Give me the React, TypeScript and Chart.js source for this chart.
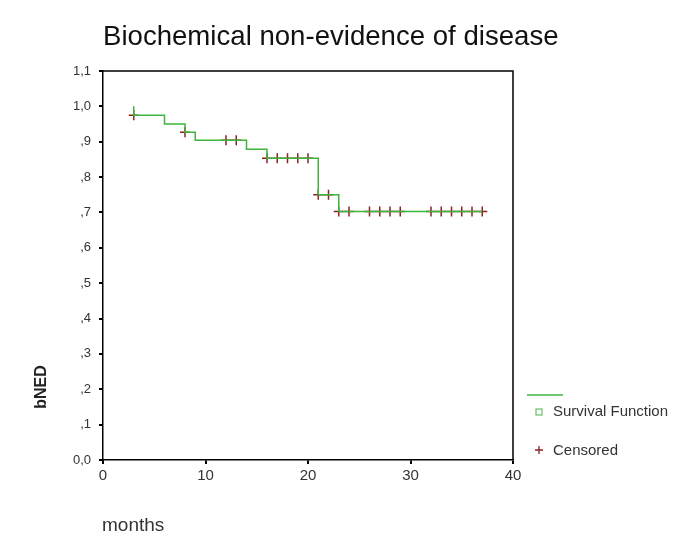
import React, { useEffect, useRef } from "react";
import { Chart, registerables } from "chart.js";

Chart.register(...registerables);

// Kaplan-Meier step function (time in months, survival)
const survTimes = [3, 3, 6, 8, 9, 14, 16, 21, 23, 37];
const survValues = [1.0, 0.975, 0.95, 0.927, 0.904, 0.879, 0.853, 0.75, 0.703, 0.703];

// Censored observations
const censorTimes = [3, 8, 12, 13, 16, 17, 18, 19, 20, 21, 22, 23, 24, 26, 27, 28, 29, 32, 33, 34, 35, 36, 37];
const censorValues = [
  0.975, 0.927, 0.904, 0.904, 0.853, 0.853, 0.853, 0.853, 0.853, 0.75, 0.75,
  0.703, 0.703, 0.703, 0.703, 0.703, 0.703, 0.703, 0.703, 0.703, 0.703, 0.703, 0.703,
];

const yTickLabels = ["0,0", ",1", ",2", ",3", ",4", ",5", ",6", ",7", ",8", ",9", "1,0", "1,1"];
const xTickValues = [0, 10, 20, 30, 40];

const titleText = "Biochemical non-evidence of disease";
const yTitle = "bNED";
const xTitle = "months";
const legendSurvival = "Survival Function";
const legendCensored = "Censored";

const FONT = "'Liberation Sans', Arial, sans-serif";
const GREEN = "#3db53d";
const RED = "#8a2323";

export default function App() {
  const ref = useRef<HTMLCanvasElement | null>(null);

  useEffect(() => {
    if (!ref.current) return;
    const decor = {
      id: "decor",
      afterDraw(chart: any) {
        const ctx = chart.ctx as CanvasRenderingContext2D;
        const a = chart.chartArea;
        ctx.save();
        // frame (top + right)
        ctx.strokeStyle = "#000";
        ctx.lineWidth = 1.5;
        ctx.beginPath();
        ctx.moveTo(a.left, a.top);
        ctx.lineTo(a.right, a.top);
        ctx.lineTo(a.right, a.bottom);
        ctx.stroke();

        // title
        ctx.fillStyle = "#111";
        ctx.font = `27.6px ${FONT}`;
        ctx.textAlign = "left";
        ctx.textBaseline = "alphabetic";
        ctx.fillText(titleText, 103, 45);

        // x title
        ctx.fillStyle = "#333";
        ctx.font = `19px ${FONT}`;
        ctx.fillText(xTitle, 102, 531);

        // y title
        ctx.save();
        ctx.translate(42, 387);
        ctx.rotate(-Math.PI / 2);
        ctx.font = `bold 16px ${FONT}`;
        ctx.fillStyle = "#222";
        ctx.textAlign = "center";
        ctx.textBaseline = "middle";
        ctx.fillText(yTitle, 0, 0);
        ctx.restore();

        // legend
        ctx.strokeStyle = GREEN;
        ctx.lineWidth = 1.5;
        ctx.beginPath();
        ctx.moveTo(527, 395);
        ctx.lineTo(563, 395);
        ctx.stroke();
        ctx.strokeStyle = "#66c266";
        ctx.lineWidth = 1.2;
        ctx.strokeRect(536, 409, 6, 6);
        ctx.strokeStyle = RED;
        ctx.lineWidth = 1.3;
        ctx.beginPath();
        ctx.moveTo(535, 450);
        ctx.lineTo(543, 450);
        ctx.moveTo(539, 446);
        ctx.lineTo(539, 454);
        ctx.stroke();
        ctx.fillStyle = "#333";
        ctx.font = `15px ${FONT}`;
        ctx.textAlign = "left";
        ctx.textBaseline = "middle";
        ctx.fillText(legendSurvival, 553, 412);
        ctx.fillText(legendCensored, 553, 451);
        ctx.restore();
      },
    };

    const chart = new Chart(ref.current, {
      type: "line",
      data: {
        datasets: [
          {
            label: legendSurvival,
            data: survTimes.map((t, i) => ({ x: t, y: survValues[i] })),
            stepped: "before",
            borderColor: GREEN,
            borderWidth: 1.5,
            pointRadius: 0,
            fill: false,
          } as any,
          {
            label: legendCensored,
            data: censorTimes.map((t, i) => ({ x: t, y: censorValues[i] })),
            showLine: false,
            pointStyle: "cross",
            pointRadius: 5,
            borderColor: RED,
            borderWidth: 1.5,
          } as any,
        ],
      },
      options: {
        animation: false,
        responsive: false,
        devicePixelRatio: 1,
        layout: { padding: { top: 71, right: 172, left: 0, bottom: 0 } },
        plugins: { legend: { display: false }, tooltip: { enabled: false }, title: { display: false } },
        scales: {
          x: {
            type: "linear",
            min: 0,
            max: 40,
            afterBuildTicks: (s: any) => {
              s.ticks = xTickValues.map((v) => ({ value: v }));
            },
            afterFit: (s: any) => {
              s.height = 91;
            },
            ticks: { color: "#333", font: { family: FONT, size: 15 }, padding: 3, maxRotation: 0 },
            grid: { display: true, drawOnChartArea: false, drawTicks: true, tickLength: 4, color: "#000", lineWidth: 2 },
            border: { display: true, color: "#000", width: 1.5 },
          },
          y: {
            type: "linear",
            min: 0,
            max: 1.1,
            afterBuildTicks: (s: any) => {
              s.ticks = yTickLabels.map((_, i) => ({ value: i / 10 }));
            },
            afterFit: (s: any) => {
              s.width = 103;
            },
            ticks: {
              color: "#333",
              font: { family: FONT, size: 13 },
              padding: 8,
              callback: (_v: any, i: number) => yTickLabels[i],
            },
            grid: { display: true, drawOnChartArea: false, drawTicks: true, tickLength: 4, color: "#000", lineWidth: 2 },
            border: { display: true, color: "#000", width: 1.5 },
          },
        },
      },
      plugins: [decor],
    });
    return () => chart.destroy();
  }, []);

  return (
    <div style={{ position: "absolute", left: 0, top: 0, width: 685, height: 551, background: "#fff" }}>
      <canvas ref={ref} width={685} height={551} style={{ display: "block" }} />
    </div>
  );
}
